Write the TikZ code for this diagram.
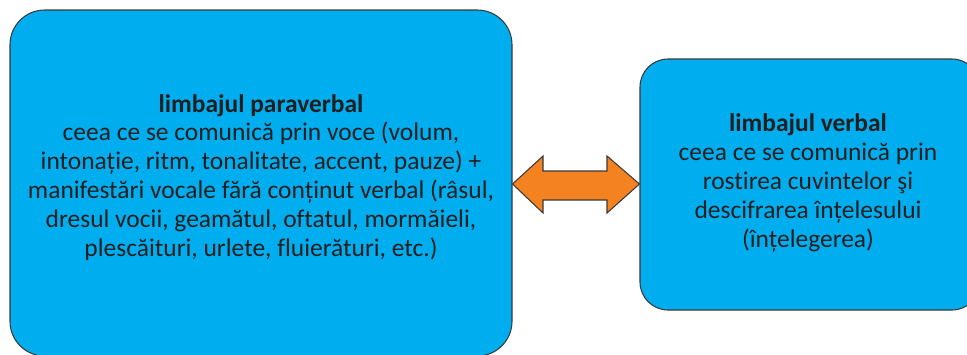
\documentclass[tikz,border=0pt]{standalone}
\usepackage{fontspec}
\setmainfont{Carlito}[Ligatures=NoCommon]
\definecolor{boxblue}{HTML}{00AEEF}
\definecolor{arrorange}{HTML}{F58220}
\definecolor{txtcol}{HTML}{231F20}
\definecolor{edgecol}{HTML}{3A3A3A}
\tikzset{
  bluebox/.style={draw=edgecol, line width=0.8pt, fill=boxblue, inner sep=0pt},
  textblock/.style={align=center, text=txtcol, inner sep=0pt, font=\fontsize{19.1}{21.6}\selectfont},
  dblarrow/.style={draw=edgecol, line width=0.8pt, fill=arrorange}
}
\begin{document}
\begin{tikzpicture}[x=0.75pt,y=-0.75pt]
\useasboundingbox (0,0) rectangle (967,354);
\node[bluebox, rounded corners=26pt, minimum width=376.5pt, minimum height=259.5pt] (L) at (261,183) {};
\node[bluebox, rounded corners=21pt, minimum width=255pt, minimum height=188.25pt] (R) at (810,184.5) {};
\node[textblock, anchor=base] (Lt) at (261,256) {\textbf{limbajul paraverbal}\\
ceea ce se comunică prin voce (volum,\\
intonație, ritm, tonalitate, accent, pauze) +\\
manifestări vocale fără conținut verbal (râsul,\\
dresul vocii, geamătul, oftatul, mormăieli,\\
plescăituri, urlete, fluierături, etc.)};
\node[textblock, anchor=base] (Rt) at (808,247) {\textbf{limbajul verbal}\\
ceea ce se comunică prin\\
rostirea cuvintelor şi\\
descifrarea înțelesului\\
(înțelegerea)};
\draw[dblarrow] (L.east |- 0,184) -- (543,156) -- (543,171) -- (607,171) -- (607,156)
  -- (R.west |- 0,184) -- (607,213) -- (607,200) -- (543,200) -- (543,213) -- cycle;
\end{tikzpicture}
\end{document}
